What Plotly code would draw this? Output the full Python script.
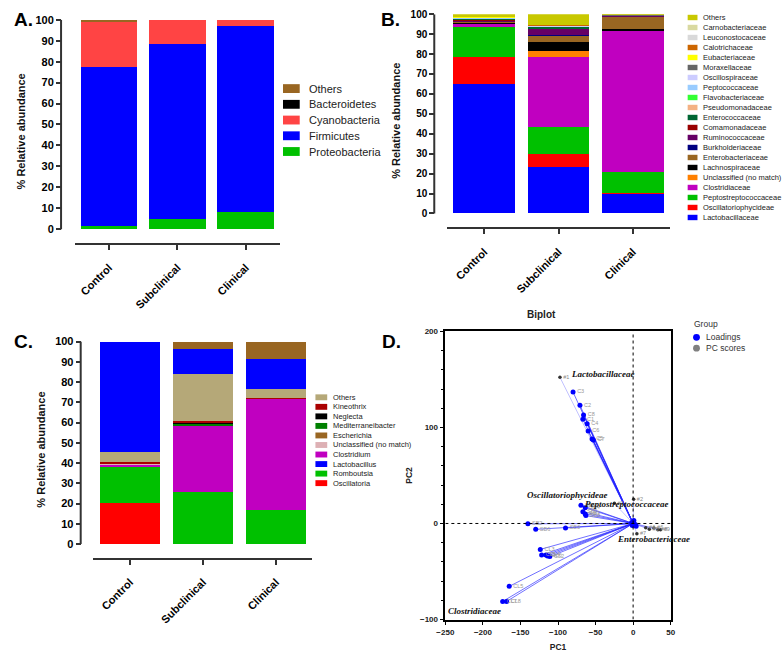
import plotly.graph_objects as go

W, H = 784, 654


def px(x):
    return x / W


def py(y):
    return 1 - y / H


groups = ["Control", "Subclinical", "Clinical"]

# ---- Panel A: phylum level (bottom -> top)
a_proteobacteria = [1.5, 4.8, 8.0]
a_firmicutes = [76.0, 83.7, 89.0]
a_cyanobacteria = [21.8, 11.5, 3.0]
a_bacteroidetes = [0.1, 0.0, 0.0]
a_others = [0.6, 0.0, 0.0]

# ---- Panel B: family level (bottom -> top)
lactobacillaceae = [65.0, 23.5, 10.0]
oscillatoriophycideae = [13.3, 6.5, 0.3]
peptostreptococcaceae = [15.2, 13.3, 10.4]
clostridiaceae = [1.5, 35.2, 70.9]
unclassified_b = [0.4, 2.8, 0.3]
lachnospiraceae = [0.4, 4.6, 0.5]
enterobacteriaceae = [0.5, 3.3, 6.5]
burkholderiaceae = [0.1, 0.1, 0.05]
ruminococcaceae = [0.4, 3.3, 0.2]
comamonadaceae = [0.2, 0.2, 0.1]
enterococcaceae = [0.8, 0.8, 0.1]
pseudomonadaceae = [0.1, 0.1, 0.02]
flavobacteriaceae = [0.05, 0.1, 0.02]
peptococcaceae = [0.05, 0.1, 0.02]
oscillospiraceae = [0.05, 0.1, 0.02]
moraxellaceae = [0.4, 0.4, 0.1]
eubacteriaceae = [0.05, 0.05, 0.02]
calotrichaceae = [0.05, 0.05, 0.02]
leuconostocaceae = [0.05, 0.05, 0.02]
carnobacteriaceae = [0.05, 0.05, 0.02]
others_b = [1.35, 5.4, 0.39]

# ---- Panel C: genus level (bottom -> top as stacked)
oscillatoria = [20.2, 0.0, 0.0]
romboutsia = [17.7, 25.9, 17.0]
clostridium = [1.6, 33.0, 55.0]
unclassified_c = [0.3, 0.1, 0.1]
mediterraneibacter = [0.3, 0.8, 0.1]
neglecta = [0.1, 0.3, 0.05]
kineothrix = [0.1, 0.5, 0.05]
others_c = [5.0, 23.4, 4.4]
lactobacillus = [54.7, 12.3, 14.7]
escherichia = [0.0, 3.7, 8.6]

# ---- Panel D: biplot
load_x = [-80, -70.8, -66, -66.9, -61.2, -59.9, -54.7, -53, -69.5, -63.8, -66.9, -63.8, -62.9,
          -140.1, -129.7, -90, -123.6, -121.8, -116.1, -114, -110.9, -165, -173.7, -168.5,
          -2, 1, 3, -1, 4]
load_y = [136.9, 123.2, 113, 108.5, 103.8, 96.2, 88, 87, 19.1, 16.4, 12.3, 10, 8.2,
          -0.3, -6.1, -4.8, -27, -32.8, -32.8, -33.8, -34.5, -65.5, -81.2, -81.2,
          1, 3, -1, -2, -3]
load_lbl = ["C3", "C2", "C8", "C1", "C4", "C6", "C5", "C7", "SB1", "SB4", "SB5", "SB7", "SB8",
            "SB2", "SB6", "SB3", "CL3", "CL1", "CL4", "CL6", "CL2", "CL5", "CL7", "CL8",
            "", "", "", "", ""]
score_x = [-97.4, 0.7, -25, 5, 16.8, 21.6, 27.7, 33, 36.5]
score_y = [152.2, 25.3, 21, -10.6, -4.4, -6.1, -4.8, -6.5, -6.5]
score_lbl = ["#1", "#2", "#3", "#7", "#4", "#5", "#6", "#8", "#9"]

FONT = "Liberation Sans, Arial, sans-serif"

a_series = [
    ("Proteobacteria", a_proteobacteria, "#00c000"),
    ("Firmicutes", a_firmicutes, "#0000ff"),
    ("Cyanobacteria", a_cyanobacteria, "#ff4444"),
    ("Bacteroidetes", a_bacteroidetes, "#000000"),
    ("Others", a_others, "#996622"),
]
b_series = [
    ("Lactobacillaceae", lactobacillaceae, "#0000ff"),
    ("Oscillatoriophycideae", oscillatoriophycideae, "#ff0000"),
    ("Peptostreptococcaceae", peptostreptococcaceae, "#00c000"),
    ("Clostridiaceae", clostridiaceae, "#c000c0"),
    ("Unclassified (no match)", unclassified_b, "#ff8000"),
    ("Lachnospiraceae", lachnospiraceae, "#000000"),
    ("Enterobacteriaceae", enterobacteriaceae, "#996622"),
    ("Burkholderiaceae", burkholderiaceae, "#000080"),
    ("Ruminococcaceae", ruminococcaceae, "#660066"),
    ("Comamonadaceae", comamonadaceae, "#990000"),
    ("Enterococcaceae", enterococcaceae, "#006633"),
    ("Pseudomonadaceae", pseudomonadaceae, "#f4b183"),
    ("Flavobacteriaceae", flavobacteriaceae, "#33ff33"),
    ("Peptococcaceae", peptococcaceae, "#99ccff"),
    ("Oscillospiraceae", oscillospiraceae, "#ccccff"),
    ("Moraxellaceae", moraxellaceae, "#666666"),
    ("Eubacteriaceae", eubacteriaceae, "#ffff00"),
    ("Calotrichaceae", calotrichaceae, "#cc6600"),
    ("Leuconostocaceae", leuconostocaceae, "#d9d9d9"),
    ("Carnobacteriaceae", carnobacteriaceae, "#d9d9a0"),
    ("Others", others_b, "#c8c800"),
]
c_series = [
    ("Oscillatoria", oscillatoria, "#ff0000"),
    ("Romboutsia", romboutsia, "#00c000"),
    ("Clostridium", clostridium, "#c000c0"),
    ("Unclassified (no match)", unclassified_c, "#ddb0b4"),
    ("Mediterraneibacter", mediterraneibacter, "#008000"),
    ("Neglecta", neglecta, "#000000"),
    ("Kineothrix", kineothrix, "#aa0000"),
    ("Others", others_c, "#b5a878"),
    ("Lactobacillus", lactobacillus, "#0000ff"),
    ("Escherichia", escherichia, "#996622"),
]
c_legend_order = ["Others", "Kineothrix", "Neglecta", "Mediterraneibacter", "Escherichia",
                  "Unclassified (no match)", "Clostridium", "Lactobacillus", "Romboutsia",
                  "Oscillatoria"]

fig = go.Figure()

for series, ax in [(a_series, ""), (b_series, "2"), (c_series, "3")]:
    for name, vals, col in series:
        fig.add_trace(go.Bar(x=groups, y=vals, name=name, marker_color=col,
                             marker_line_width=0, xaxis="x" + ax, yaxis="y" + ax,
                             showlegend=False))

# biplot lines from origin
lx, ly = [], []
for x, y in zip(load_x, load_y):
    lx += [0, x, None]
    ly += [0, y, None]
sx, sy = [], []
for x, y in zip(score_x, score_y):
    sx += [0, x, None]
    sy += [0, y, None]
fig.add_trace(go.Scatter(x=lx, y=ly, mode="lines", line=dict(color="rgba(30,30,255,0.8)", width=0.8),
                         xaxis="x4", yaxis="y4", showlegend=False, hoverinfo="skip"))
fig.add_trace(go.Scatter(x=sx, y=sy, mode="lines", line=dict(color="rgba(80,80,255,0.6)", width=0.6),
                         xaxis="x4", yaxis="y4", showlegend=False, hoverinfo="skip"))
fig.add_trace(go.Scatter(x=load_x, y=load_y, mode="markers+text", text=load_lbl,
                         textposition="middle right", textfont=dict(size=5.5, color="#999", family=FONT),
                         marker=dict(color="#0000ff", size=5), name="Loadings",
                         xaxis="x4", yaxis="y4", showlegend=False))
fig.add_trace(go.Scatter(x=score_x, y=score_y, mode="markers+text", text=score_lbl,
                         textposition="middle right", textfont=dict(size=5.5, color="#888", family=FONT),
                         marker=dict(color="#333333", size=3.5), name="PC scores",
                         xaxis="x4", yaxis="y4", showlegend=False))

shapes = []
annotations = []

tick_font = dict(family=FONT, size=11, color="black", weight="bold")


def bar_axes(xd, yline, ytop, y0px, axline_x, ypx_per):
    bottom = -(yline - y0px) / ypx_per
    xa = dict(domain=[px(xd[0]), px(xd[1])], showline=True, linecolor="#333", linewidth=2,
              ticks="outside", ticklen=5, tickwidth=1.5, tickcolor="#333", tickangle=-45,
              ticklabelstandoff=7,
              tickfont=tick_font, showgrid=False, zeroline=False, range=[-0.5, 2.5],
              fixedrange=True)
    ya = dict(domain=[py(yline), py(ytop)], anchor="free", position=px(axline_x),
              range=[bottom, 100], tick0=0, dtick=10, ticks="outside", ticklen=5, tickwidth=1.5,
              tickcolor="#333", showline=False, showgrid=False, zeroline=False,
              tickfont=tick_font,
              title=dict(text="<b>% Relative abundance</b>",
                         font=dict(family=FONT, size=11, color="#111"), standoff=6))
    return xa, ya


xa1, ya1 = bar_axes((67, 276), 241, 14, 227, 53, 2.13)
xa2, ya2 = bar_axes((446, 673), 225, 8.3, 211, 433, 2.027)
xa3, ya3 = bar_axes((86, 309), 561, 341.3, 547.3, 73, 2.06)
ya2["tickfont"] = dict(family=FONT, size=10, color="black", weight="bold")
xa1["anchor"], xa2["anchor"], xa3["anchor"] = "y", "y2", "y3"

for yref, xpix in [("y", 53), ("y2", 433), ("y3", 73)]:
    shapes.append(dict(type="line", xref="paper", yref=yref, x0=px(xpix), x1=px(xpix),
                       y0=0, y1=100, line=dict(color="#333", width=2)))


def legend_rows(items, sw_x0, sw_w, sw_h, text_x, y_first, step, size):
    for i, (name, col) in enumerate(items):
        yc = y_first + i * step
        shapes.append(dict(type="rect", xref="paper", yref="paper",
                           x0=px(sw_x0), x1=px(sw_x0 + sw_w),
                           y0=py(yc + sw_h / 2), y1=py(yc - sw_h / 2),
                           fillcolor=col, line=dict(width=0)))
        annotations.append(dict(text=name, xref="paper", yref="paper", x=px(text_x), y=py(yc),
                                xanchor="left", yanchor="middle", showarrow=False,
                                font=dict(family=FONT, size=size, color="#222")))


legend_rows([(n, c) for n, v, c in reversed(a_series)], 279, 17, 9, 303, 84, 16, 11)
legend_rows([(n, c) for n, v, c in reversed(b_series)], 691, 10, 5.5, 705, 11.7, 10.17, 7.5)
c_colors = {n: c for n, v, c in c_series}
legend_rows([(n, c_colors[n]) for n in c_legend_order], 312, 12, 6, 328, 398, 9.7, 7.5)

# biplot legend
annotations.append(dict(text="Group", xref="paper", yref="paper", x=px(695), y=py(323),
                        xanchor="left", yanchor="middle", showarrow=False,
                        font=dict(family=FONT, size=8.5, color="#333")))
for i, (name, col) in enumerate([("Loadings", "#0000ff"), ("PC scores", "#808080")]):
    yc = 337 + i * 11
    shapes.append(dict(type="circle", xref="paper", yref="paper", x0=px(696.5), x1=px(703.5),
                       y0=py(yc + 3.5), y1=py(yc - 3.5), fillcolor=col, line=dict(width=0)))
    annotations.append(dict(text=name, xref="paper", yref="paper", x=px(708), y=py(yc),
                            xanchor="left", yanchor="middle", showarrow=False,
                            font=dict(family=FONT, size=8.5, color="#333")))

# dotted zero lines
shapes.append(dict(type="line", xref="x4", yref="y4", x0=-250, x1=50, y0=0, y1=0,
                   line=dict(color="black", width=1, dash="dot")))
shapes.append(dict(type="line", xref="x4", yref="y4", x0=0, x1=0, y0=-100, y1=200,
                   line=dict(color="black", width=1, dash="dot")))

# taxon labels in the biplot
for txt, x, y in [("Lactobacillaceae", -40.7, 155.6), ("Oscillatoriophycideae", -86.9, 29.4),
                  ("Peptostreptococcaceae", -8.9, 20.8), ("Enterobacteriaceae", 27.3, -16.4),
                  ("Clostridiaceae", -210.8, -91.1)]:
    annotations.append(dict(text="<b><i>" + txt + "</i></b>", xref="x4", yref="y4", x=x, y=y,
                            showarrow=False, font=dict(family="Liberation Serif, Times New Roman, serif",
                                                       size=9, color="#111")))

annotations.append(dict(text="<b>Biplot</b>", xref="paper", yref="paper", x=px(559), y=py(314),
                        showarrow=False, font=dict(family=FONT, size=10, color="#222")))

for lab, x, y in [("A.", 3, 14), ("B.", 377, 14), ("C.", 3, 341), ("D.", 378, 341)]:
    annotations.append(dict(text="<b>" + lab + "</b>", xref="paper", yref="paper", x=px(x), y=py(y),
                            xanchor="left", yanchor="middle", showarrow=False,
                            font=dict(family=FONT, size=19, color="black")))

d_font = dict(family=FONT, size=8, color="#222", weight="bold")
fig.update_layout(
    width=W, height=H, margin=dict(l=0, r=0, t=0, b=0),
    paper_bgcolor="white", plot_bgcolor="white",
    barmode="stack", bargap=0.17,
    xaxis=xa1, yaxis=ya1, xaxis2=xa2, yaxis2=ya2, xaxis3=xa3, yaxis3=ya3,
    xaxis4=dict(domain=[px(444.3), px(673.7)], anchor="y4", range=[-250, 50], dtick=50,
                showline=True, mirror=True, linecolor="black", linewidth=1.5,
                ticks="outside", ticklen=4, tickcolor="black", showgrid=False, zeroline=False,
                tickfont=d_font,
                title=dict(text="<b>PC1</b>", font=dict(family=FONT, size=8.5, color="#222"),
                           standoff=8)),
    yaxis4=dict(domain=[py(624), py(331)], anchor="x4", range=[-100, 200], dtick=100,
                showline=True, mirror=True, linecolor="black", linewidth=1.5,
                ticks="outside", ticklen=4, tickcolor="black", showgrid=False, zeroline=False,
                minor=dict(dtick=20, ticks="outside", ticklen=3, tickcolor="black"),
                tickfont=d_font,
                title=dict(text="<b>PC2</b>", font=dict(family=FONT, size=8.5, color="#222"),
                           standoff=6)),
    shapes=shapes, annotations=annotations, showlegend=False,
)

fig.write_html("out.html", config={"displayModeBar": False},
               post_script="document.body.style.margin='0';")
